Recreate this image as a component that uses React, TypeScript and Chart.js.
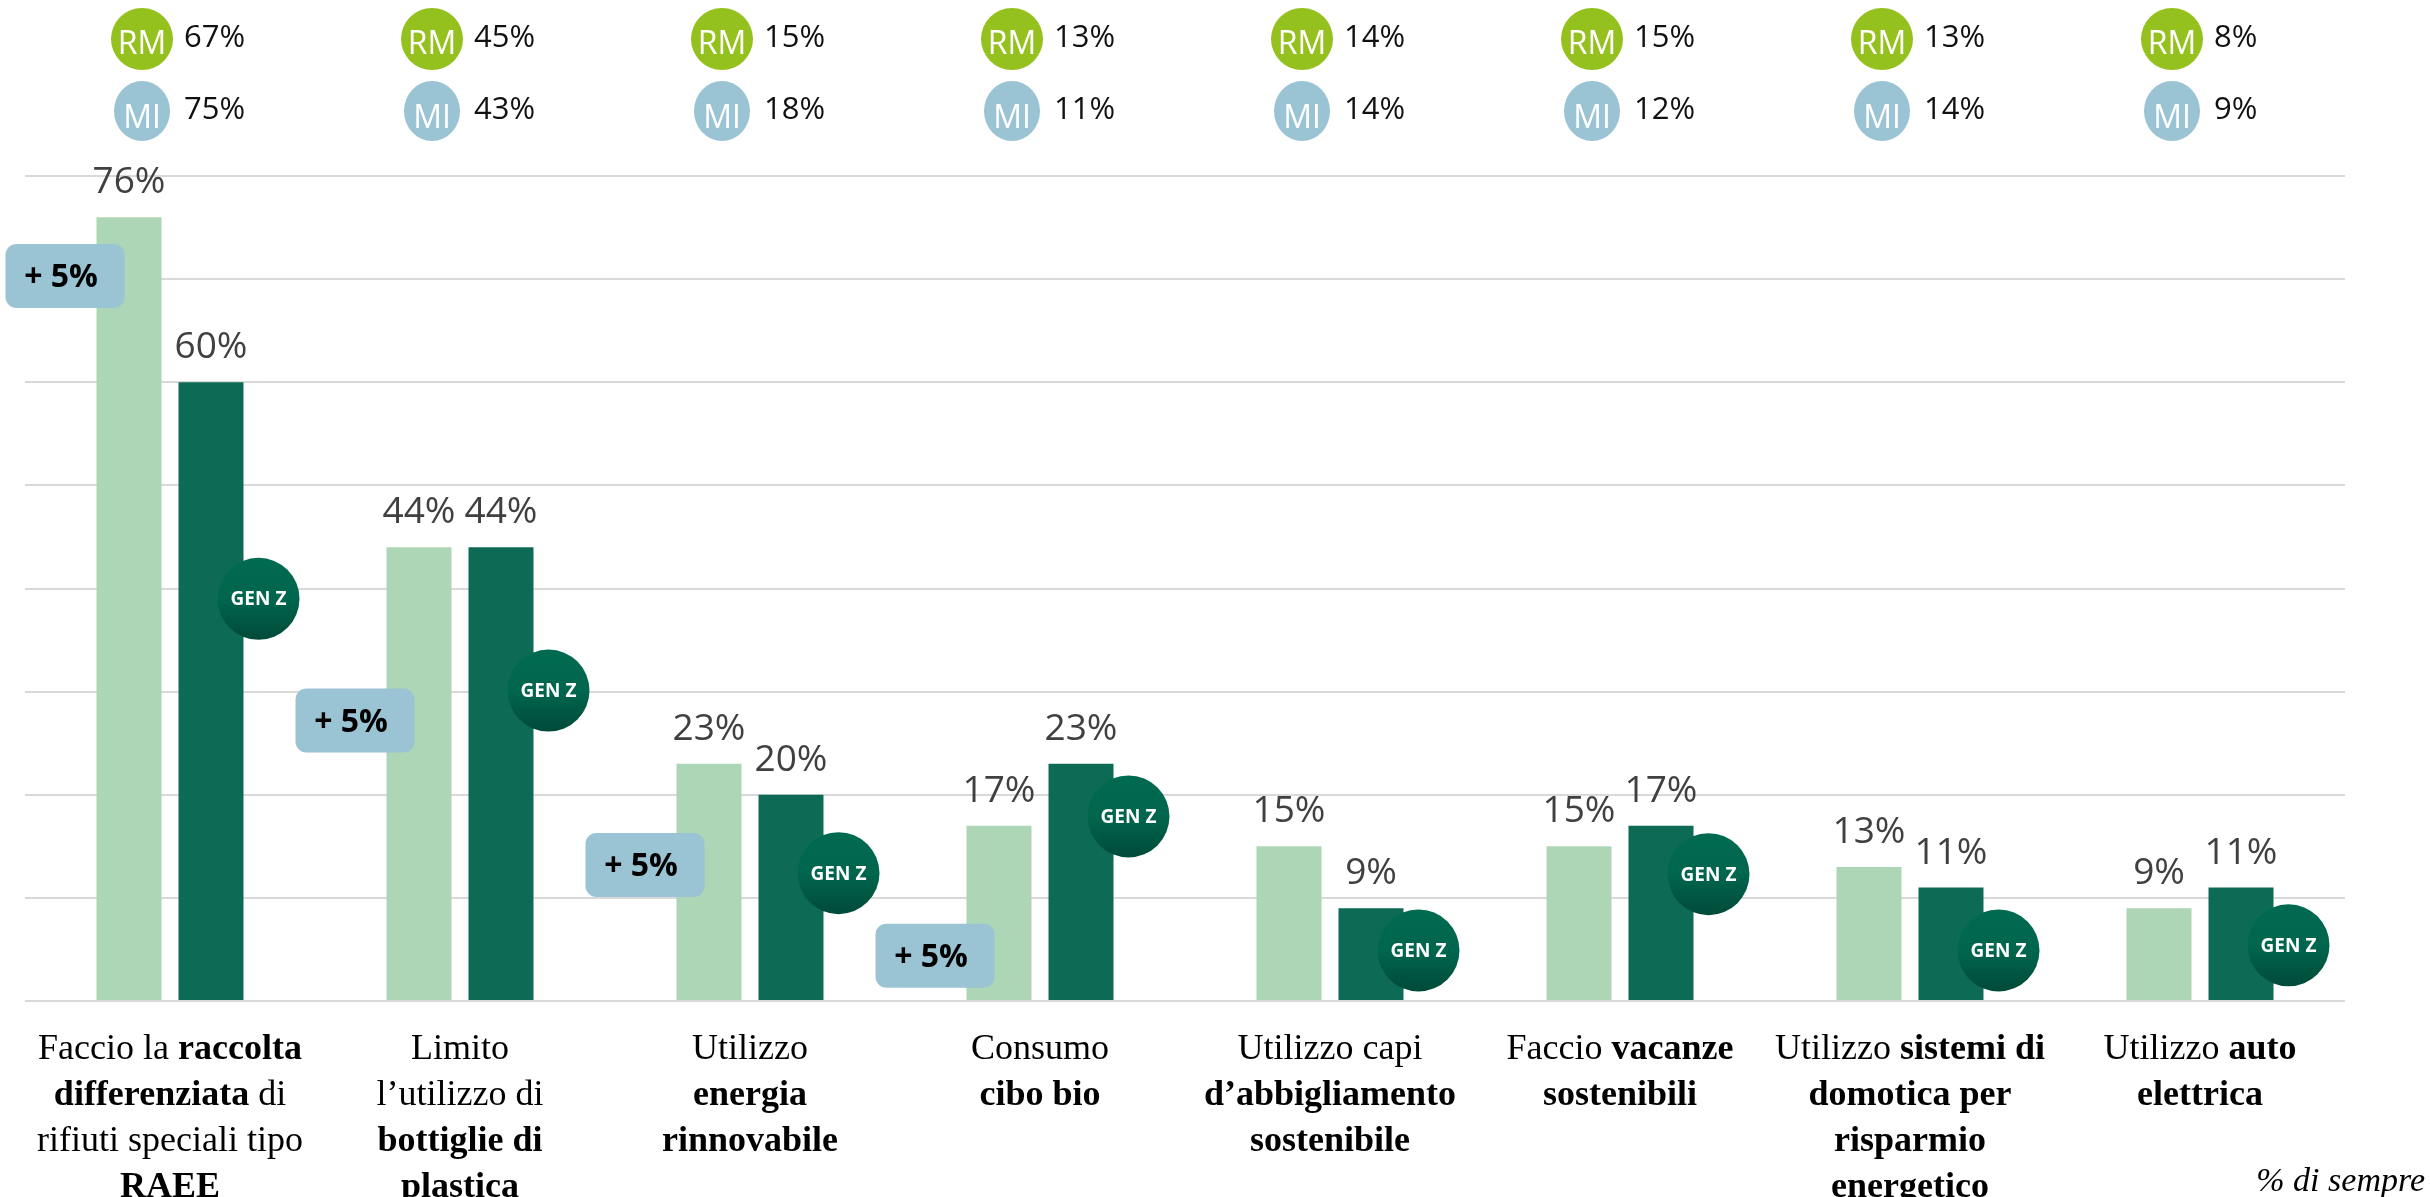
import React, { useEffect, useRef } from "react";
import { Chart, registerables } from "chart.js";

Chart.register(...registerables);

// ---- data ----
const categories = [
  "Faccio la raccolta differenziata di rifiuti speciali tipo RAEE",
  "Limito l’utilizzo di bottiglie di plastica",
  "Utilizzo energia rinnovabile",
  "Consumo cibo bio",
  "Utilizzo capi d’abbigliamento sostenibile",
  "Faccio vacanze sostenibili",
  "Utilizzo sistemi di domotica per risparmio energetico",
  "Utilizzo auto elettrica",
];

// label lines, **bold** segments
const categoryLabelLines = [
  ["Faccio la **raccolta**", "**differenziata** di", "rifiuti speciali tipo", "**RAEE**"],
  ["Limito", "l’utilizzo di", "**bottiglie di**", "**plastica**"],
  ["Utilizzo", "**energia**", "**rinnovabile**"],
  ["Consumo", "**cibo bio**"],
  ["Utilizzo capi", "**d’abbigliamento**", "**sostenibile**"],
  ["Faccio **vacanze**", "**sostenibili**"],
  ["Utilizzo **sistemi di**", "**domotica per**", "**risparmio**", "**energetico**"],
  ["Utilizzo **auto**", "**elettrica**"],
];

const totalValues = [76, 44, 23, 17, 15, 15, 13, 9];
const genZValues = [60, 44, 20, 23, 9, 17, 11, 11];
const romeValues = [67, 45, 15, 13, 14, 15, 13, 8];
const milanValues = [75, 43, 18, 11, 14, 12, 14, 9];
const upliftTexts = ["+ 5%", "+ 5%", "+ 5%", "+ 5%", "", "", "", ""];
// vertical anchors (in value units) for annotations
const upliftAnchor = [70.3, 27.2, 13.2, 4.4, 0, 0, 0, 0];
const genZBadgeAnchor = [39.0, 30.1, 12.4, 17.9, 4.9, 12.3, 4.9, 5.4];
const footnote = "% di sempre";

const Y_MIN = 0;
const Y_MAX = 80;
const Y_STEP = 10;

const LIGHT = "#acd6b5";
const DARK = "#0d6b55";
const GREEN_BADGE = "#95c11f";
const BLUE_BADGE = "#9ac3d3";

function parseSegments(line: string): { text: string; bold: boolean }[] {
  const parts = line.split("**");
  return parts
    .map((t, i) => ({ text: t, bold: i % 2 === 1 }))
    .filter((s) => s.text.length > 0);
}

const overlayPlugin = {
  id: "overlay",
  afterDatasetsDraw(chart: any) {
    const ctx: CanvasRenderingContext2D = chart.ctx;
    const xs = chart.scales.x;
    const ys = chart.scales.y;
    const metaL = chart.getDatasetMeta(0);
    const metaD = chart.getDatasetMeta(1);
    ctx.save();

    // value labels
    ctx.font = "37px 'Open Sans'";
    ctx.fillStyle = "#404040";
    ctx.textAlign = "center";
    ctx.textBaseline = "alphabetic";
    [metaL, metaD].forEach((meta: any, di: number) => {
      meta.data.forEach((bar: any, i: number) => {
        const v = chart.data.datasets[di].data[i];
        ctx.fillText(v + "%", bar.x, bar.y - 24);
      });
    });

    // uplift boxes
    metaL.data.forEach((bar: any, i: number) => {
      if (!upliftTexts[i]) return;
      const left = bar.x - bar.width / 2;
      const w = 119;
      const h = 64;
      const bx = left + 28 - w;
      const cy = ys.getPixelForValue(upliftAnchor[i]);
      const by = cy - h / 2;
      ctx.fillStyle = BLUE_BADGE;
      ctx.beginPath();
      (ctx as any).roundRect(bx, by, w, h, 11);
      ctx.fill();
      ctx.fillStyle = "#000";
      ctx.font = "bold 32px 'Open Sans'";
      ctx.textAlign = "center";
      ctx.textBaseline = "middle";
      ctx.fillText(upliftTexts[i], bx + w / 2 - 4, cy + 2);
    });

    // GEN Z badges
    metaD.data.forEach((bar: any, i: number) => {
      const cx = bar.x + bar.width / 2 + 15;
      const cy = ys.getPixelForValue(genZBadgeAnchor[i]);
      const r = 41;
      const g = ctx.createLinearGradient(0, cy - r, 0, cy + r);
      g.addColorStop(0, "#006a50");
      g.addColorStop(0.5, "#00664d");
      g.addColorStop(1, "#004a39");
      ctx.fillStyle = g;
      ctx.beginPath();
      ctx.arc(cx, cy, r, 0, Math.PI * 2);
      ctx.fill();
      ctx.fillStyle = "#ffffff";
      ctx.font = "bold 19px 'Open Sans'";
      ctx.textAlign = "center";
      ctx.textBaseline = "middle";
      ctx.fillText("GEN Z", cx, cy + 1);
    });

    // top row (RM / MI)
    categories.forEach((_, i) => {
      const cx = xs.getPixelForValue(i) - 28;
      // RM
      ctx.fillStyle = GREEN_BADGE;
      ctx.beginPath();
      ctx.ellipse(cx, 39, 31, 31, 0, 0, Math.PI * 2);
      ctx.fill();
      ctx.fillStyle = "#ffffff";
      ctx.font = "32px 'Open Sans'";
      ctx.textAlign = "center";
      ctx.textBaseline = "alphabetic";
      ctx.fillText("RM", cx, 54);
      ctx.fillStyle = "#111111";
      ctx.textAlign = "left";
      ctx.font = "31px 'Open Sans'";
      ctx.fillText(romeValues[i] + "%", cx + 42, 47);
      // MI
      ctx.fillStyle = BLUE_BADGE;
      ctx.beginPath();
      ctx.ellipse(cx, 111, 28, 30, 0, 0, Math.PI * 2);
      ctx.fill();
      ctx.fillStyle = "#ffffff";
      ctx.font = "32px 'Open Sans'";
      ctx.textAlign = "center";
      ctx.fillText("MI", cx, 128);
      ctx.fillStyle = "#111111";
      ctx.textAlign = "left";
      ctx.font = "31px 'Open Sans'";
      ctx.fillText(milanValues[i] + "%", cx + 42, 119);
    });

    // category labels
    const reg = "36px 'Liberation Serif'";
    const bold = "bold 36px 'Liberation Serif'";
    ctx.fillStyle = "#000000";
    ctx.textAlign = "left";
    ctx.textBaseline = "alphabetic";
    categoryLabelLines.forEach((lines, i) => {
      const cx = xs.getPixelForValue(i);
      lines.forEach((line, k) => {
        const segs = parseSegments(line);
        let total = 0;
        const widths = segs.map((s) => {
          ctx.font = s.bold ? bold : reg;
          const w = ctx.measureText(s.text).width;
          total += w;
          return w;
        });
        let x = cx - total / 2;
        const yb = 1059 + k * 46;
        segs.forEach((s, j) => {
          ctx.font = s.bold ? bold : reg;
          ctx.fillText(s.text, x, yb);
          x += widths[j];
        });
      });
    });

    // footnote
    ctx.font = "italic 34px 'Liberation Serif'";
    ctx.textAlign = "right";
    ctx.fillStyle = "#000000";
    ctx.fillText(footnote, 2425, 1191);

    ctx.restore();
  },
};

export default function App() {
  const canvasRef = useRef<HTMLCanvasElement | null>(null);

  useEffect(() => {
    document.body.style.margin = "0";
    document.body.style.overflow = "hidden";
    const canvas = canvasRef.current;
    if (!canvas) return;
    const chart = new Chart(canvas, {
      type: "bar",
      data: {
        labels: categories,
        datasets: [
          {
            label: "Totale",
            data: totalValues,
            backgroundColor: LIGHT,
            categoryPercentage: 0.5655,
            barPercentage: 0.7927,
          },
          {
            label: "Gen Z",
            data: genZValues,
            backgroundColor: DARK,
            categoryPercentage: 0.5655,
            barPercentage: 0.7927,
          },
        ],
      },
      options: {
        responsive: false,
        animation: false,
        devicePixelRatio: 1,
        layout: { padding: { left: 25, right: 85, top: 176, bottom: 196 } },
        plugins: {
          legend: { display: false },
          tooltip: { enabled: false },
        },
        scales: {
          x: {
            display: false,
          },
          y: {
            min: Y_MIN,
            max: Y_MAX,
            ticks: { display: false, stepSize: Y_STEP },
            grid: { color: "#d9d9d9", lineWidth: 2, drawTicks: false },
            border: { display: false },
            afterFit: (s: any) => {
              s.width = 0;
            },
          },
        },
      },
      plugins: [overlayPlugin],
    });
    let alive = true;
    if ((document as any).fonts) {
      Promise.all([
        (document as any).fonts.load("37px 'Open Sans'"),
        (document as any).fonts.load("bold 32px 'Open Sans'"),
        (document as any).fonts.load("36px 'Liberation Serif'"),
        (document as any).fonts.load("bold 36px 'Liberation Serif'"),
        (document as any).fonts.load("italic 34px 'Liberation Serif'"),
      ]).then(() => {
        if (alive) chart.draw();
      });
    }
    return () => {
      alive = false;
      chart.destroy();
    };
  }, []);

  return (
    <div style={{ width: 2430, height: 1197, background: "#ffffff" }}>
      <canvas ref={canvasRef} width={2430} height={1197} style={{ display: "block" }} />
    </div>
  );
}
